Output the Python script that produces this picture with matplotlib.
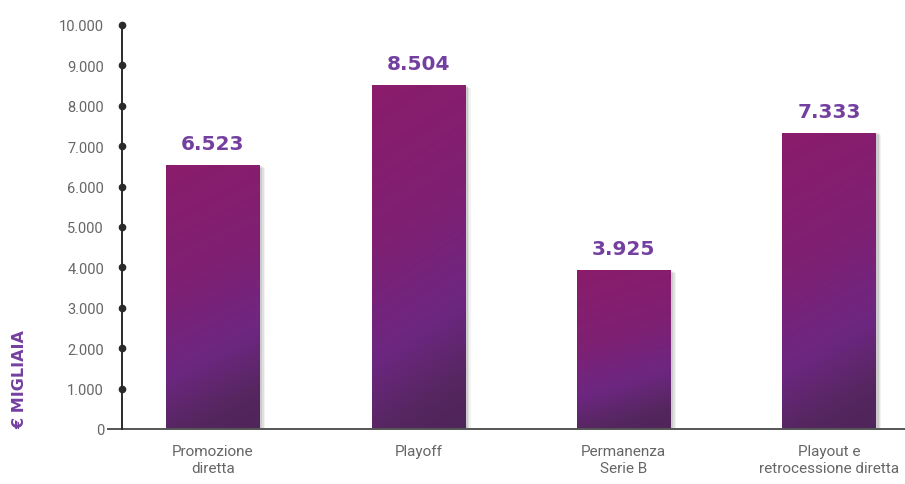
import numpy as np
import matplotlib
matplotlib.use("Agg")
from matplotlib import pyplot as plt
from matplotlib import patheffects
from matplotlib.colors import LinearSegmentedColormap

categories = ["Promozione\ndiretta", "Playoff", "Permanenza\nSerie B", "Playout e\nretrocessione diretta"]
values = [6523, 8504, 3925, 7333]
y_ticks = [0, 1000, 2000, 3000, 4000, 5000, 6000, 7000, 8000, 9000, 10000]

PURPLE_TXT = "#7440a0"
TICK_GREY = "#666666"
AXIS_COL = "#2a2a2a"

bar_cmap = LinearSegmentedColormap.from_list(
    "bar_grad",
    [(0.0, "#8b1c6b"), (0.40, "#7f2073"), (0.68, "#6d2781"), (0.88, "#55265f"), (1.0, "#4e255a")],
)

plt.rcParams["font.family"] = ["Roboto", "DejaVu Sans"]

fig = plt.figure(figsize=(9.05, 4.85), dpi=100)
ax = fig.add_axes([122 / 905, 55 / 485, 1 - 122 / 905, 404 / 485])

x = np.arange(len(values))
width = 0.455

# gradient texture: t runs mostly top->bottom with a slight diagonal tilt
gy, gx = np.mgrid[0:1:200j, 0:1:40j]
grad = np.clip(gy * 0.85 + gx * 0.15, 0, 1)

shadow = [
    patheffects.SimplePatchShadow(offset=(4, -1.5), shadow_rgbFace="#000000", alpha=0.05),
    patheffects.SimplePatchShadow(offset=(3, -1), shadow_rgbFace="#000000", alpha=0.07),
    patheffects.SimplePatchShadow(offset=(2, -0.5), shadow_rgbFace="#000000", alpha=0.09),
    patheffects.Normal(),
]

bars = ax.bar(x, values, width=width, color="#8b1c6b", linewidth=0, zorder=2)
for b, v in zip(bars, values):
    b.set_path_effects(shadow)
    x0 = b.get_x()
    im = ax.imshow(grad, cmap=bar_cmap, extent=[x0, x0 + b.get_width(), 0, v],
                   origin="upper", aspect="auto", zorder=3, interpolation="bicubic")
    im.set_clip_path(b)
    ax.text(b.get_x() + b.get_width() / 2, v + 300, "{:,}".format(v).replace(",", "."),
            ha="center", va="bottom", fontsize=14.5, fontweight="bold", color=PURPLE_TXT,
            family="DejaVu Sans")

ax.set_xlim(-0.443, 3.37)
ax.set_ylim(0, 10000)

for side in ["top", "right", "bottom"]:
    ax.spines[side].set_visible(False)
ax.spines["left"].set_color(AXIS_COL)
ax.spines["left"].set_linewidth(1.4)
ax.spines["left"].set_zorder(5)

# baseline runs a little past the y axis on the left
ax.axhline(0, xmin=-0.018, xmax=1, color="#555555", linewidth=1.4, clip_on=False, zorder=5)

# round dots on each y tick
ax.plot(np.zeros(len(y_ticks) - 1), y_ticks[1:], "o", color=AXIS_COL, markersize=4.5,
        transform=ax.get_yaxis_transform(), clip_on=False, zorder=6)

ax.set_yticks(y_ticks)
ax.set_yticklabels(["{:,}".format(t).replace(",", ".") for t in y_ticks])
ax.tick_params(axis="y", length=0, pad=13, labelsize=10.5, labelcolor=TICK_GREY)
ax.set_xticks(x)
ax.set_xticklabels(categories, linespacing=1.25)
ax.tick_params(axis="x", length=0, pad=11, labelsize=11, labelcolor=TICK_GREY)

fig.text(20 / 905, 1 - 380 / 485, "€ MIGLIAIA", rotation=90, ha="center", va="center",
         fontsize=11.5, fontweight="bold", color=PURPLE_TXT, family="DejaVu Sans")

fig.savefig("out.png", dpi=100)
